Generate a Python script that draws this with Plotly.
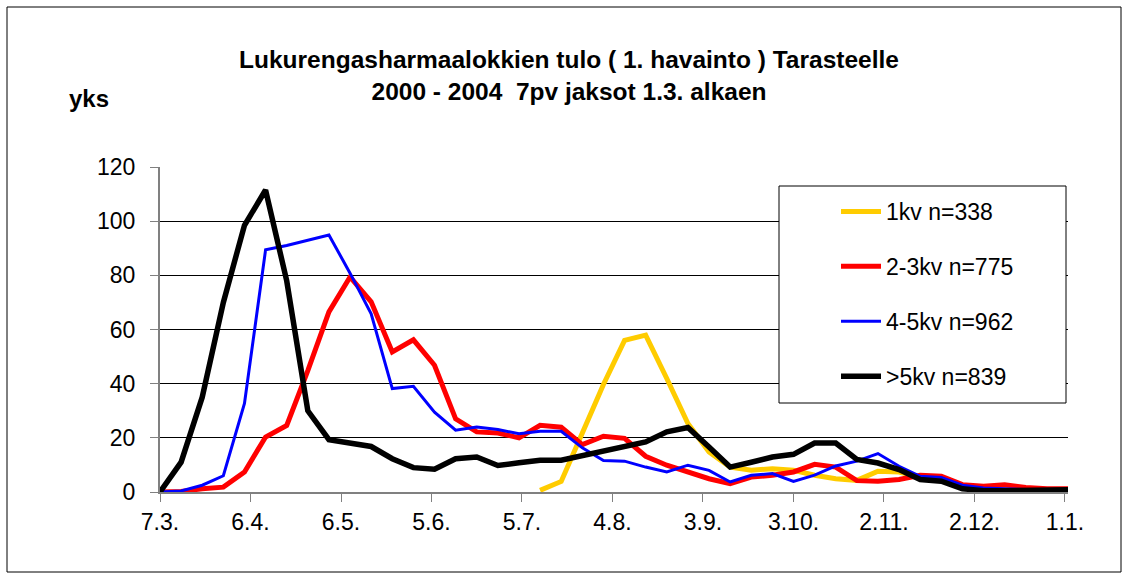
import plotly.graph_objects as go

# 7-day periods (end date of each week), plotted on a date axis
weeks = [
    "2001-03-07", "2001-03-14", "2001-03-21", "2001-03-28",
    "2001-04-04", "2001-04-11", "2001-04-18", "2001-04-25",
    "2001-05-02", "2001-05-09", "2001-05-16", "2001-05-23", "2001-05-30",
    "2001-06-06", "2001-06-13", "2001-06-20", "2001-06-27",
    "2001-07-04", "2001-07-11", "2001-07-18", "2001-07-25",
    "2001-08-01", "2001-08-08", "2001-08-15", "2001-08-22", "2001-08-29",
    "2001-09-05", "2001-09-12", "2001-09-19", "2001-09-26",
    "2001-10-03", "2001-10-10", "2001-10-17", "2001-10-24", "2001-10-31",
    "2001-11-07", "2001-11-14", "2001-11-21", "2001-11-28",
    "2001-12-05", "2001-12-12", "2001-12-19", "2001-12-26",
    "2002-01-02",
]

kv1 = [None, None, None, None, None, None, None, None, None, None,
       None, None, None, None, None, None, None, None,
       0.6, 3.9, 21.8, 39.7, 56, 57.9, 41.9, 25.3, 14.8, 9.2, 8, 8.6,
       8, 6.2, 4.9, 4.3, 7.7, 7.4, 5.5, 4.5, 2, 1, 1, 0.5, 0.5, 0.5]
kv23 = [0, 0.2, 1.2, 1.8, 7.4, 20.3, 24.6, 44.8, 66.5, 79.4,
        70.2, 51.7, 56.2, 46.8, 27, 22.2, 21.8, 20, 24.6, 23.9,
        17.5, 20.6, 19.8, 13.2, 9.9, 7.4, 4.9, 3.1, 5.5, 6.2,
        7.4, 10.2, 9.2, 4.2, 4, 4.6, 6.2, 5.8, 2.7, 2.1,
        2.7, 1.7, 1.2, 1.2]
kv45 = [0, 0.4, 2.5, 6, 32.7, 89.4, 91, 93, 94.9, 80.8,
        65.8, 38.2, 39, 29.5, 22.8, 24, 23.1, 21.5, 22.4, 22.4,
        16.3, 11.6, 11.4, 9.2, 7.4, 9.9, 8, 3.7, 6.2, 6.8,
        3.9, 6.2, 9.6, 11.4, 14.2, 9.5, 5.8, 5.4, 2.5, 1.5,
        1.2, 0.9, 0.9, 0.9]
kv5 = [0, 11, 35, 70, 98.5, 111.5, 78, 30, 19.3, 17.8,
       16.8, 12.3, 9, 8.4, 12.3, 12.9, 9.8, 10.8, 11.7, 11.7,
       13.4, 15.2, 16.4, 18.5, 22.2, 23.8, 16.6, 9.2, 11, 12.9,
       13.9, 18.1, 18.1, 12, 10.7, 8.3, 4.6, 4, 1.2, 0.5,
       0.5, 0.5, 0.5, 0.8]

series_names = ["1kv n=338", "2-3kv n=775", "4-5kv n=962", ">5kv n=839"]
series_colors = ["#FFCC00", "#FF0000", "#0000FF", "#000000"]
series_widths = [5, 5, 3, 5.5]

tick_dates = ["2001-03-07", "2001-04-06", "2001-05-06", "2001-06-05",
              "2001-07-05", "2001-08-04", "2001-09-03", "2001-10-03",
              "2001-11-02", "2001-12-02", "2002-01-01"]
tick_labels = ["7.3.", "6.4.", "6.5.", "5.6.", "5.7.", "4.8.", "3.9.",
               "3.10.", "2.11.", "2.12.", "1.1."]

FONT = "Liberation Sans, Arial, sans-serif"

fig = go.Figure()
for name, vals, col, w in zip(series_names, [kv1, kv23, kv45, kv5],
                              series_colors, series_widths):
    fig.add_trace(go.Scatter(
        x=weeks, y=vals, mode="lines", name=name,
        legendgroup=name,
        line=dict(color=col, width=w, shape="linear"),
        connectgaps=False,
    ))

W, H = 1129, 579
L, R, T, B = 160, 61, 167, 87
pw = W - L - R
ph = H - T - B

def px(xp):
    return (xp - L) / pw

def py(yp):
    return (H - B - yp) / ph

fig.update_layout(
    width=W, height=H,
    margin=dict(l=L, r=R, t=T, b=B, pad=0),
    paper_bgcolor="white", plot_bgcolor="white",
    font=dict(family=FONT, size=23, color="black"),
    title=dict(
        text="<b>Lukurengasharmaalokkien tulo ( 1. havainto ) Tarasteelle</b>"
             "<br><b>2000 - 2004  7pv jaksot 1.3. alkaen</b>",
        x=569 / W, xanchor="center",
        y=1 - 68 / H, yanchor="top",
        font=dict(family=FONT, size=24.5, color="black"),
    ),
    showlegend=True,
    legend=dict(
        x=px(836), xanchor="left",
        y=py(190), yanchor="top",
        bgcolor="rgba(0,0,0,0)",
        borderwidth=0,
        font=dict(family=FONT, size=23, color="black"),
        traceorder="grouped",
        tracegroupgap=22,
        itemwidth=40,
    ),
    xaxis=dict(
        type="date",
        range=["2001-03-07", "2002-01-02"],
        tickmode="array", tickvals=tick_dates, ticktext=tick_labels,
        showgrid=False, zeroline=False,
        showline=True, linecolor="#808080", linewidth=2,
        ticks="outside", ticklen=8, tickcolor="#808080", tickwidth=1,
        tickfont=dict(family=FONT, size=23, color="black"),
    ),
    yaxis=dict(
        range=[0, 120], dtick=20, tick0=0,
        showgrid=True, gridcolor="#000000", gridwidth=1,
        zeroline=False,
        showline=True, linecolor="#808080", linewidth=2,
        ticks="outside", ticklen=8, tickcolor="#808080", tickwidth=1,
        tickfont=dict(family=FONT, size=23, color="black"),
        ticklabelstandoff=10,
    ),
    shapes=[
        # outer chart border
        dict(type="rect", xref="paper", yref="paper",
             x0=px(7), x1=px(1121), y0=py(572), y1=py(7),
             line=dict(color="#000000", width=1), fillcolor="rgba(0,0,0,0)",
             layer="below"),
        # legend frame
        dict(type="rect", xref="paper", yref="paper",
             x0=px(779), x1=px(1066), y0=py(403), y1=py(186),
             line=dict(color="#000000", width=1), fillcolor="white",
             layer="above"),
    ],
    annotations=[
        dict(text="<b>yks</b>", xref="paper", yref="paper",
             x=px(67), xanchor="left", y=py(98), yanchor="middle",
             showarrow=False, font=dict(family=FONT, size=24, color="black")),
    ],
)

fig.write_html("out.html", config={"displayModeBar": False},
               post_script="document.body.style.margin='0';")
